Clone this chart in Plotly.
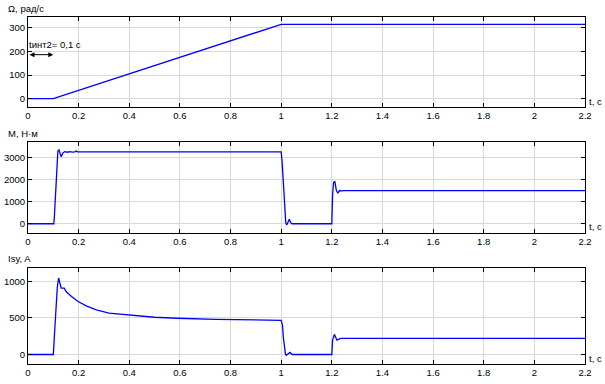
import plotly.graph_objects as go

# ---- data ----
t_omega = [0, 0.1, 1.0, 2.2]
omega = [0, 0, 314, 314]

t_m = [0, 0.102, 0.104, 0.108, 0.112, 0.115, 0.118, 0.1225, 0.127, 0.131, 0.138,
       0.145, 0.155, 0.165, 0.175, 0.185, 0.19, 0.195, 0.21, 1.0, 1.004, 1.01,
       1.014, 1.018, 1.022, 1.027, 1.032, 1.037, 1.042, 1.05, 1.2, 1.203, 1.207,
       1.212, 1.218, 1.224, 1.23, 1.238, 1.25, 2.2]
m_vals = [0, 0, 300, 1200, 2400, 3100, 3280, 3330, 3150, 3030, 3200,
          3260, 3230, 3260, 3240, 3250, 3290, 3250, 3250, 3250, 2750, 1600,
          630, 50, -60, 100, 200, 60, 0, 0, 0, 1300, 1880,
          1900, 1500, 1380, 1500, 1490, 1500, 1500]

t_i = [0, 0.1, 0.105, 0.107, 0.113, 0.116, 0.121, 0.126, 0.131, 0.143, 0.152,
       0.172, 0.198, 0.23, 0.27, 0.32, 0.39, 0.45, 0.5, 0.59, 0.74, 1.0, 1.005,
       1.009, 1.013, 1.017, 1.02, 1.035, 1.043, 1.2, 1.203, 1.21, 1.22, 1.235, 2.2]
i_vals = [0, 0, 300, 430, 770, 930, 1047, 990, 909, 909, 854,
          793, 725, 665, 610, 565, 541, 527, 510, 496, 482, 468, 403,
          220, 82, 4, -10, 28, 0, 0, 197, 276, 197, 220, 220]

x_ticks = [0, 0.2, 0.4, 0.6, 0.8, 1, 1.2, 1.4, 1.6, 1.8, 2, 2.2]
omega_ticks = [0, 100, 200, 300]
m_ticks = [0, 1000, 2000, 3000]
i_ticks = [0, 500, 1000]

y_titles = ["Ω, рад/с", "M, Н·м", "Isy, A"]
x_title = "t, c"
interval_label = "tинт2= 0,1 с"

# ---- layout ----
W, H = 605, 384
FONT = "Liberation Sans, Arial, sans-serif"
FS = 9.5
BLUE = "#0000ff"
GRID = "#d9d9d9"

x_dom = [28 / W, 585 / W]
panels = [  # (top px, bottom px)
    (17, 107),
    (142, 233),
    (268, 364),
]
y_doms = [[(H - b) / H, (H - t) / H] for t, b in panels]
y_ranges = [[-35, 345], [-417, 3693], [-130, 1184]]
y_tickvals = [omega_ticks, m_ticks, i_ticks]

fig = go.Figure()
series = [(t_omega, omega), (t_m, m_vals), (t_i, i_vals)]
for k, (tx, vy) in enumerate(series):
    suffix = "" if k == 0 else str(k + 1)
    fig.add_trace(go.Scatter(x=tx, y=vy, mode="lines",
                             line=dict(color=BLUE, width=1.3),
                             xaxis="x" + suffix, yaxis="y" + suffix,
                             showlegend=False, hoverinfo="skip"))

axis_common = dict(showline=True, linecolor="black", linewidth=1, mirror="allticks",
                   ticks="inside", ticklen=4, tickcolor="black", tickwidth=1,
                   showgrid=True, gridcolor=GRID, gridwidth=1, zeroline=False,
                   automargin=False,
                   tickfont=dict(family=FONT, size=FS, color="black"))

layout = dict(width=W, height=H, margin=dict(l=0, r=0, t=0, b=0, pad=0),
              paper_bgcolor="white", plot_bgcolor="white",
              font=dict(family=FONT, size=FS, color="black"))
for k in range(3):
    suffix = "" if k == 0 else str(k + 1)
    layout["xaxis" + suffix] = dict(axis_common, domain=x_dom, range=[0, 2.2],
                                    tickvals=x_ticks, ticktext=[f"{v:g}" for v in x_ticks],
                                    anchor="y" + suffix)
    layout["yaxis" + suffix] = dict(axis_common, domain=y_doms[k], range=y_ranges[k],
                                    tickvals=y_tickvals[k], anchor="x" + suffix)
fig.update_layout(**layout)

annotations = []
title_y = [8, 133, 258]
for k in range(3):
    annotations.append(dict(text=y_titles[k], xref="paper", yref="paper",
                            x=7 / W, y=(H - title_y[k]) / H, xanchor="left", yanchor="middle",
                            showarrow=False, borderpad=0,
                            font=dict(family=FONT, size=FS, color="black")))
    annotations.append(dict(text=x_title, xref="paper", yref="paper",
                            x=588 / W, y=(H - (panels[k][1] - 6)) / H, xanchor="left",
                            yanchor="middle", showarrow=False, borderpad=0,
                            font=dict(family=FONT, size=FS, color="black")))
# interval marker on first panel
annotations.append(dict(x=0.1, y=186, ax=0, ay=186, xref="x", yref="y", axref="x", ayref="y",
                        text="", showarrow=True, arrowhead=2, arrowside="end+start",
                        arrowsize=1, arrowwidth=1, arrowcolor="black"))
annotations.append(dict(x=0, y=228, xref="x", yref="y", text=interval_label,
                        xanchor="left", yanchor="middle", showarrow=False, borderpad=0,
                        font=dict(family=FONT, size=FS, color="black")))
fig.update_layout(annotations=annotations)

fig.write_html("out.html", config={"displayModeBar": False, "staticPlot": True},
               post_script="document.body.style.margin='0';document.body.style.padding='0';")
